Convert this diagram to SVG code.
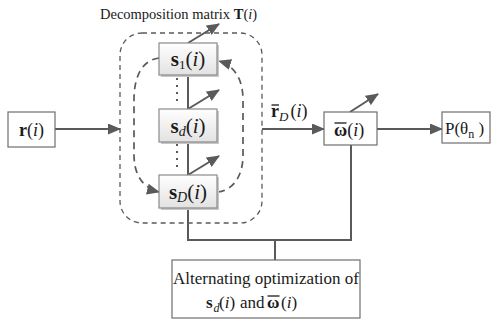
<svg xmlns="http://www.w3.org/2000/svg" width="492" height="320" viewBox="0 0 492 320">
<style>
.ln{stroke:#5a5a5a;stroke-width:2;fill:none}
.bar{stroke:#1a1a1a;stroke-width:1.3;fill:none}
.dash{stroke:#5a5a5a;stroke-width:1.3;fill:none;stroke-dasharray:5,4}
.dash2{stroke:#5a5a5a;stroke-width:1.7;fill:none;stroke-dasharray:7,5}
.dot{stroke:#5a5a5a;stroke-width:2;fill:none;stroke-dasharray:2,5}
.box{fill:#fff;stroke:#6e6e6e;stroke-width:1.2}
.sbox{fill:url(#g);stroke:#8a8a8a;stroke-width:1.2}
.shadow{fill:#c8c8c8}
text{font-family:"Liberation Serif","Times New Roman",serif;fill:#1a1a1a}
.b{font-weight:bold}
.it{font-style:italic}
</style>
<defs>
<linearGradient id="g" x1="0" y1="0" x2="0" y2="1">
<stop offset="0" stop-color="#ffffff"/>
<stop offset="1" stop-color="#e2e2e2"/>
</linearGradient>
<marker id="ah" viewBox="0 0 13 11" refX="12" refY="5.5" markerWidth="13" markerHeight="11" markerUnits="userSpaceOnUse" orient="auto">
<path d="M0,0 L13,5.5 L0,11 z" fill="#5a5a5a"/>
</marker>
</defs>

<text x="100" y="19" font-size="14.5">Decomposition matrix <tspan class="b">T</tspan>(<tspan class="it">i</tspan>)</text>

<g id="connectors">
<rect x="120" y="33" width="142" height="190" rx="22" class="dash"/>
<line x1="55" y1="129" x2="120" y2="129" class="ln" marker-end="url(#ah)"/>
<line x1="262" y1="129" x2="324" y2="129" class="ln" marker-end="url(#ah)"/>
<line x1="377" y1="129" x2="442" y2="129" class="ln" marker-end="url(#ah)"/>
<line x1="188" y1="75" x2="188" y2="109" class="ln"/>
<line x1="188" y1="142" x2="188" y2="175" class="ln"/>
<line x1="177" y1="78" x2="177" y2="104" class="dot"/>
<line x1="177" y1="144" x2="177" y2="169" class="dot"/>
<line x1="188" y1="43" x2="219" y2="24" class="ln" marker-end="url(#ah)"/>
<line x1="188" y1="109" x2="219" y2="90" class="ln" marker-end="url(#ah)"/>
<line x1="188" y1="175" x2="219" y2="156" class="ln" marker-end="url(#ah)"/>
<line x1="350" y1="112" x2="378" y2="94" class="ln" marker-end="url(#ah)"/>
<path d="M159,58 C143,60 134,75 134,100 L134,155 C134,175 143,188 159,192" class="dash2" marker-end="url(#ah)"/>
<path d="M218,192 C234,190 243,175 243,155 L243,100 C243,80 235,66 219,61" class="dash2" marker-end="url(#ah)"/>
<path d="M188,208 V240 H351 V145" class="ln"/>
<line x1="275" y1="240" x2="275" y2="260" class="ln"/>
</g>

<g id="r">
<rect x="8" y="112" width="47" height="35" class="box"/>
<text x="31.5" y="136" font-size="18" text-anchor="middle"><tspan class="b">r</tspan>(<tspan class="it">i</tspan>)</text>
</g>

<g id="s1">
<rect x="161" y="45" width="58" height="32" class="shadow"/>
<rect x="159" y="43" width="58" height="32" class="sbox"/>
<text x="188" y="66" font-size="21" text-anchor="middle"><tspan class="b">s</tspan><tspan font-size="13" dy="3">1</tspan><tspan dy="-3">(</tspan><tspan class="it">i</tspan>)</text>
</g>

<g id="sd">
<rect x="161" y="111" width="58" height="33" class="shadow"/>
<rect x="159" y="109" width="58" height="33" class="sbox"/>
<text x="188" y="133" font-size="21" text-anchor="middle"><tspan class="b">s</tspan><tspan font-size="14" class="it" dy="3">d</tspan><tspan dy="-3">(</tspan><tspan class="it">i</tspan>)</text>
</g>

<g id="sD">
<rect x="161" y="177" width="58" height="33" class="shadow"/>
<rect x="159" y="175" width="58" height="33" class="sbox"/>
<text x="188" y="199" font-size="21" text-anchor="middle"><tspan class="b">s</tspan><tspan font-size="14" class="it" dy="3">D</tspan><tspan dy="-3">(</tspan><tspan class="it">i</tspan>)</text>
</g>

<g id="rD-label">
<text x="271" y="117" font-size="18"><tspan class="b">r</tspan><tspan font-size="13" class="it" dy="4">D</tspan><tspan dy="-4" dx="2">(</tspan><tspan class="it">i</tspan>)</text>
<line x1="271.5" y1="105" x2="279" y2="105" class="bar"/>
</g>

<g id="omega">
<rect x="324" y="112" width="53" height="33" class="box"/>
<text x="334" y="136" font-size="18"><tspan class="b">ω</tspan>(<tspan class="it">i</tspan>)</text>
<line x1="334.5" y1="123" x2="346.5" y2="123" class="bar"/>
</g>

<g id="P">
<rect x="442" y="112" width="48" height="31" class="box"/>
<text x="445" y="134" font-size="17">P(θ<tspan font-size="12" dy="4">n</tspan><tspan dy="-4"> )</tspan></text>
</g>

<g id="alt">
<rect x="172" y="260" width="188" height="58" class="box"/>
<text x="266" y="284" font-size="17" text-anchor="middle">Alternating optimization of</text>
<text y="308" font-size="17"><tspan x="206" class="b">s</tspan><tspan x="213.5" font-size="12" class="it" dy="4">d</tspan><tspan x="219" dy="-4">(</tspan><tspan class="it">i</tspan>)<tspan x="240">and</tspan><tspan x="267" class="b">ω</tspan><tspan x="281">(</tspan><tspan class="it">i</tspan>)</text>
<line x1="267.5" y1="296" x2="279.5" y2="296" class="bar"/>
</g>
</svg>
